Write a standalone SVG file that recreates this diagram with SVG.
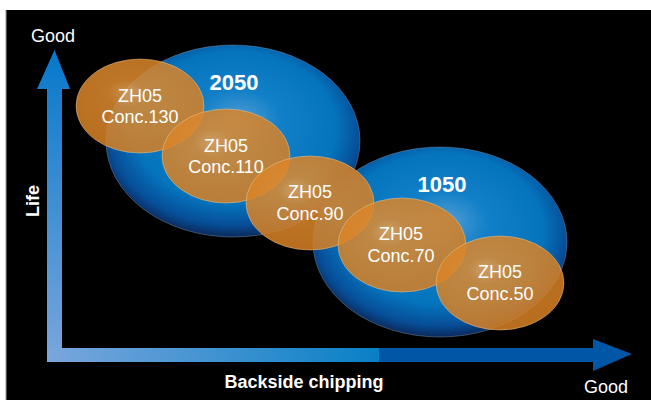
<svg xmlns="http://www.w3.org/2000/svg" width="651" height="400" viewBox="0 0 651 400">
<defs>
<radialGradient id="blueG" cx="0.5" cy="0.45" r="0.55" fx="0.53" fy="0.38">
<stop offset="0" stop-color="#4f9bd2"/>
<stop offset="0.3" stop-color="#1280c8"/>
<stop offset="0.72" stop-color="#0474bd"/>
<stop offset="0.9" stop-color="#074e98"/>
<stop offset="1" stop-color="#0a2a5c"/>
</radialGradient>
<radialGradient id="orG" cx="0.45" cy="0.42" r="0.6" fx="0.38" fy="0.35">
<stop offset="0" stop-color="#eba455"/>
<stop offset="0.25" stop-color="#dc8a30"/>
<stop offset="1" stop-color="#d67f22"/>
</radialGradient>
<linearGradient id="hBar" x1="47" y1="0" x2="600" y2="0" gradientUnits="userSpaceOnUse">
<stop offset="0" stop-color="#7aa6dc"/>
<stop offset="0.6" stop-color="#0880c6"/>
<stop offset="0.6" stop-color="#0256a6"/>
<stop offset="1" stop-color="#0256a6"/>
</linearGradient>
<linearGradient id="vBar" x1="0" y1="362" x2="0" y2="60" gradientUnits="userSpaceOnUse">
<stop offset="0" stop-color="#7aa6dc"/>
<stop offset="1" stop-color="#0a7acb"/>
</linearGradient>
<style>
.lbl{font-family:"Liberation Sans",Arial,sans-serif;fill:#ffffff}
.conc{font-size:18px;text-anchor:middle}
.big{font-size:22px;font-weight:bold;text-anchor:middle}
.ax{font-size:18px}
.axb{font-size:18px;font-weight:bold}
.blob{fill:url(#blueG);stroke:#8a9cb8;stroke-width:0.6;stroke-opacity:0.7}
.or{fill:url(#orG);fill-opacity:0.86;stroke:#f4d6a8;stroke-width:0.7;stroke-opacity:0.6}
</style>
</defs>
<rect x="0" y="0" width="651" height="400" fill="#ffffff"/>
<rect x="6" y="10" width="645" height="390" fill="#000000"/>
<line x1="6" y1="10" x2="6" y2="400" stroke="#9a9a9a" stroke-width="1"/>

<g id="connectors">
<path d="M47,362 L47,89 L37,89 L54.5,50 L70,89 L62,89 L62,348 Z" fill="url(#vBar)"/>
<path d="M47,348 L593,348 L593,339 L632,354 L593,371 L593,362 L47,362 Z" fill="url(#hBar)"/>
</g>

<g id="axis-labels">
<text class="lbl ax" x="31" y="42">Good</text>
<text class="lbl ax" x="584" y="393">Good</text>
<text class="lbl axb" x="304" y="388" text-anchor="middle">Backside chipping</text>
<text class="lbl axb" x="39" y="201" text-anchor="middle" transform="rotate(-90 39 201)">Life</text>
</g>

<g id="series-2050">
<ellipse class="blob" cx="233" cy="141" rx="127" ry="96"/>
<text class="lbl big" x="234" y="90">2050</text>
</g>
<g id="series-1050">
<ellipse class="blob" cx="440" cy="242" rx="127" ry="95"/>
<text class="lbl big" x="442" y="192">1050</text>
</g>

<g id="conc-130">
<ellipse class="or" cx="140" cy="106" rx="64" ry="47"/>
<text class="lbl conc" x="140" y="102">ZH05</text>
<text class="lbl conc" x="140" y="123">Conc.130</text>
</g>
<g id="conc-110">
<ellipse class="or" cx="226" cy="156" rx="64" ry="47"/>
<text class="lbl conc" x="226" y="152">ZH05</text>
<text class="lbl conc" x="226" y="173">Conc.110</text>
</g>
<g id="conc-90">
<ellipse class="or" cx="310" cy="203" rx="64" ry="47"/>
<text class="lbl conc" x="310" y="198">ZH05</text>
<text class="lbl conc" x="310" y="220">Conc.90</text>
</g>
<g id="conc-70">
<ellipse class="or" cx="402" cy="245" rx="64" ry="47"/>
<text class="lbl conc" x="401" y="240">ZH05</text>
<text class="lbl conc" x="401" y="262">Conc.70</text>
</g>
<g id="conc-50">
<ellipse class="or" cx="500" cy="283" rx="64" ry="47"/>
<text class="lbl conc" x="500" y="278">ZH05</text>
<text class="lbl conc" x="500" y="300">Conc.50</text>
</g>
</svg>
